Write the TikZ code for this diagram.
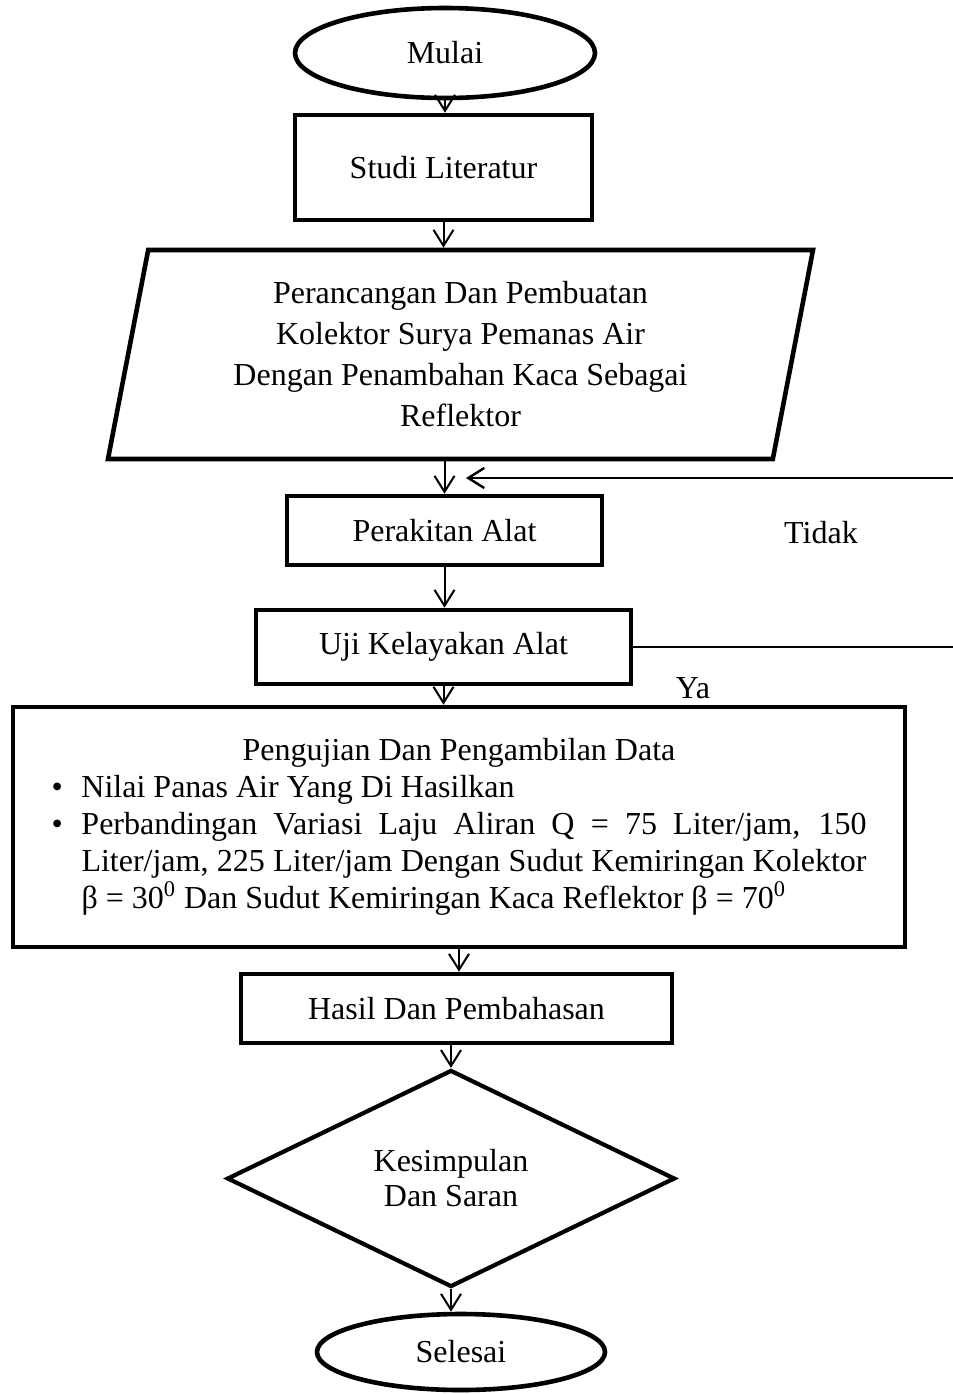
\documentclass[tikz,border=0pt]{standalone}
\usepackage{fontspec}
\setmainfont{Liberation Serif}
\usetikzlibrary{arrows.meta,shapes.geometric,positioning}

\newcommand{\flowfont}{\fontsize{16pt}{19pt}\selectfont}

\begin{document}
\begin{tikzpicture}[x=0.5pt,y=-0.5pt,->,>={Straight Barb[length=8pt,width=10pt]},
                    line width=1pt,font=\flowfont]
  \tikzstyle{terminal}=[ellipse,draw,line width=2.3pt,minimum width=150pt,minimum height=45pt]
  \tikzstyle{process}=[rectangle,draw,line width=2.3pt,minimum height=34.5pt]
  \tikzstyle{io}=[trapezium,draw,line width=2.3pt,trapezium left angle=75.8,
                  trapezium right angle=104.2,trapezium stretches body,
                  minimum width=352.5pt,minimum height=104.5pt,align=center,
                  font=\fontsize{16pt}{20.5pt}\selectfont]
  \tikzstyle{decision}=[diamond,draw,line width=2.1pt,aspect=2.06,minimum width=224pt,
                        minimum height=108.5pt,align=center,
                        font=\fontsize{16pt}{17.5pt}\selectfont]
  \useasboundingbox (0,0) rectangle (953,1394);

  \node[terminal]                              (mulai)   at (445,53)     {Mulai};
  \node[process,minimum width=148.5pt,minimum height=52.5pt]
                                               (studi)   at (443.5,167.5) {Studi Literatur};
  \node[io]                                    (plan)    at (460.5,354.5) {Perancangan Dan Pembuatan\\
                                                                          Kolektor Surya Pemanas Air\\
                                                                          Dengan Penambahan Kaca Sebagai\\
                                                                          Reflektor};
  \node[process,minimum width=157.5pt]         (rakit)   at (444.5,530.5) {Perakitan Alat};
  \node[process,minimum width=187.5pt,minimum height=37pt]
                                               (uji)     at (443.5,647)   {Uji Kelayakan Alat};
  \node[process,text width=407.5pt,inner xsep=19.25pt,minimum height=120pt,align=justify,
        font=\fontsize{16pt}{18.5pt}\selectfont]
                                               (data)    at (459,827)     {%
    {\centering Pengujian Dan Pengambilan Data\par}
    \hangindent=15pt\hangafter=1\noindent\makebox[15pt][l]{\textbullet}Nilai Panas Air Yang Di Hasilkan\par
    \hangindent=15pt\hangafter=1\noindent\makebox[15pt][l]{\textbullet}Perbandingan Variasi Laju Aliran Q = 75 Liter/jam, 150\linebreak
    Liter/jam, 225 Liter/jam Dengan Sudut Kemiringan Kolektor\linebreak
    β = 30\textsuperscript{0} Dan Sudut Kemiringan Kaca Reflektor β = 70\textsuperscript{0}\par};
  \node[process,minimum width=215.5pt]         (hasil)   at (456.5,1008.5) {Hasil Dan Pembahasan};
  \node[decision]                              (simpul)  at (451,1178.5)  {Kesimpulan\\Dan Saran};
  \node[terminal,minimum width=144pt,minimum height=38pt]
                                               (selesai) at (461,1352)    {Selesai};

  \node (tidak) at (821,533) {Tidak};
  \node (ya)    at (693,688) {Ya};

  \coordinate (turn)    at (965,478);
  \coordinate (back in) at (466,478);

  \path (mulai)               edge (mulai |- studi.north)
        (studi)               edge (studi |- plan.north)
        (rakit |- plan.south) edge (rakit)
        (rakit)               edge (rakit |- uji.north)
        (uji)                 edge (uji |- data.north)
        (data)                edge (data |- hasil.north)
        (simpul |- hasil.south) edge (simpul)
        (simpul)              edge (simpul |- selesai.north);

  % kembali ke perakitan bila tidak layak
  \draw[line width=1.2pt] (uji.east) -| (turn) -- (back in);
\end{tikzpicture}
\end{document}
